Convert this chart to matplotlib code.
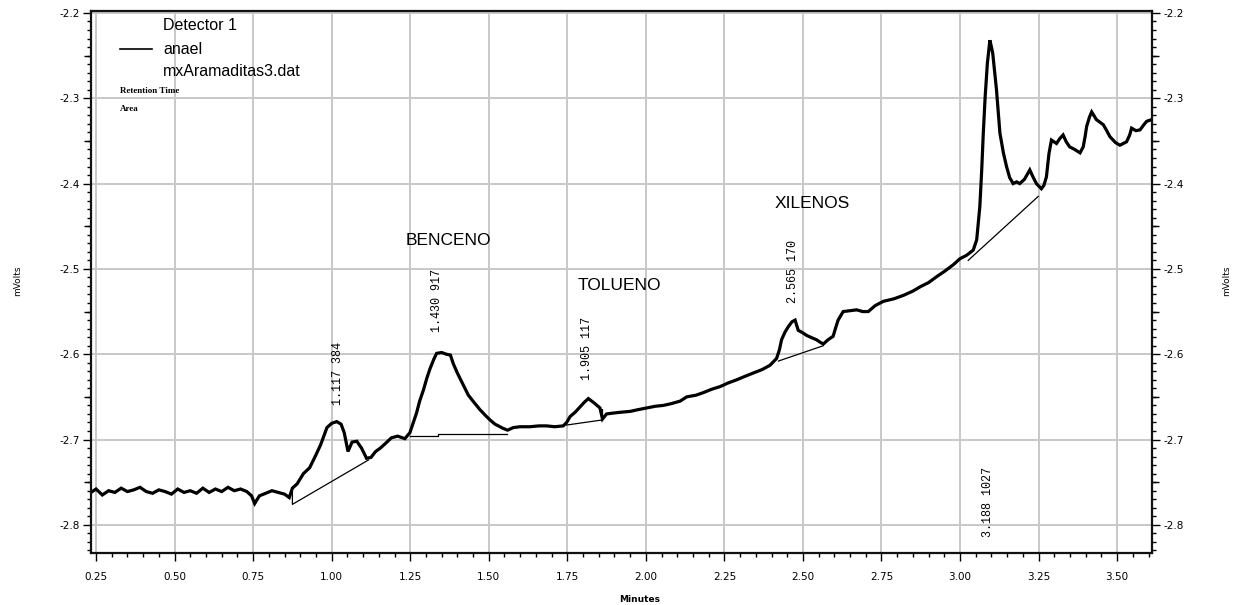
import matplotlib
matplotlib.use("Agg")
import matplotlib.pyplot as plt
from matplotlib.ticker import MultipleLocator, FixedLocator, FormatStrFormatter

# ---- detector trace (minutes, mV) ----
trace_min = [
    0.234, 0.25, 0.27, 0.29, 0.31, 0.33, 0.35, 0.37, 0.39, 0.41, 0.43, 0.45,
    0.47, 0.49, 0.51, 0.53, 0.55, 0.57, 0.59, 0.61, 0.63, 0.65, 0.67, 0.69,
    0.71, 0.73, 0.745, 0.755, 0.77, 0.79, 0.81, 0.83, 0.85, 0.865, 0.875,
    0.89, 0.91, 0.93, 0.95, 0.965, 0.985, 1.00, 1.016, 1.03, 1.04, 1.052,
    1.065, 1.08, 1.095, 1.111, 1.125, 1.14, 1.155, 1.17, 1.19, 1.21, 1.233,
    1.249, 1.26, 1.27, 1.28, 1.292, 1.303, 1.313, 1.325, 1.334, 1.35, 1.365,
    1.378, 1.387, 1.40, 1.408, 1.42, 1.435, 1.45, 1.472, 1.49, 1.504, 1.52,
    1.546, 1.56, 1.578, 1.60, 1.631, 1.66, 1.684, 1.71, 1.737, 1.748, 1.759,
    1.775, 1.79, 1.805, 1.817, 1.835, 1.854, 1.862, 1.875, 1.896, 1.92, 1.95,
    1.975, 2.003, 2.03, 2.056, 2.08, 2.109, 2.13, 2.16, 2.183, 2.21, 2.236,
    2.26, 2.289, 2.315, 2.342, 2.37, 2.395, 2.416, 2.425, 2.432, 2.443,
    2.453, 2.465, 2.475, 2.485, 2.50, 2.512, 2.53, 2.543, 2.555, 2.565,
    2.58, 2.596, 2.605, 2.612, 2.628, 2.65, 2.671, 2.69, 2.708, 2.73, 2.756,
    2.79, 2.82, 2.85, 2.873, 2.90, 2.926, 2.95, 2.979, 3.00, 3.021, 3.042,
    3.053, 3.063, 3.069, 3.074, 3.08, 3.087, 3.095, 3.10, 3.104, 3.116,
    3.127, 3.138, 3.148, 3.158, 3.169, 3.18, 3.19, 3.205, 3.222, 3.232,
    3.243, 3.259, 3.267, 3.275, 3.283, 3.291, 3.307, 3.318, 3.328, 3.338,
    3.349, 3.365, 3.382, 3.392, 3.398, 3.403, 3.412, 3.419, 3.434, 3.456,
    3.467, 3.477, 3.495, 3.509, 3.53, 3.54, 3.546, 3.56, 3.573, 3.585,
    3.594, 3.61,
]
trace_mv = [
    -2.762, -2.758, -2.765, -2.760, -2.762, -2.757, -2.761, -2.759, -2.756,
    -2.761, -2.763, -2.759, -2.761, -2.764, -2.758, -2.762, -2.760, -2.763,
    -2.757, -2.762, -2.758, -2.761, -2.756, -2.760, -2.758, -2.761, -2.766,
    -2.775, -2.766, -2.763, -2.760, -2.762, -2.764, -2.768, -2.757, -2.752,
    -2.740, -2.733, -2.718, -2.706, -2.686, -2.681, -2.679, -2.682, -2.692,
    -2.714, -2.703, -2.702, -2.710, -2.722, -2.721, -2.714, -2.710, -2.705,
    -2.698, -2.696, -2.699, -2.692, -2.680, -2.669, -2.655, -2.642, -2.628,
    -2.617, -2.606, -2.599, -2.598, -2.600, -2.601, -2.611, -2.622, -2.628,
    -2.637, -2.648, -2.655, -2.665, -2.672, -2.677, -2.682, -2.687, -2.689,
    -2.686, -2.685, -2.685, -2.684, -2.684, -2.685, -2.684, -2.680, -2.673,
    -2.668, -2.662, -2.656, -2.652, -2.657, -2.663, -2.676, -2.670, -2.669,
    -2.668, -2.667, -2.665, -2.663, -2.661, -2.660, -2.658, -2.655, -2.650,
    -2.648, -2.645, -2.641, -2.638, -2.634, -2.630, -2.626, -2.622, -2.618,
    -2.613, -2.605, -2.595, -2.583, -2.574, -2.568, -2.562, -2.560, -2.572,
    -2.575, -2.578, -2.581, -2.583, -2.586, -2.588, -2.583, -2.579, -2.568,
    -2.560, -2.550, -2.549, -2.548, -2.550, -2.550, -2.543, -2.538, -2.535,
    -2.531, -2.526, -2.521, -2.516, -2.509, -2.503, -2.495, -2.488, -2.484,
    -2.478, -2.466, -2.427, -2.384, -2.341, -2.298, -2.259, -2.232, -2.240,
    -2.247, -2.290, -2.341, -2.364, -2.380, -2.393, -2.400, -2.398, -2.400,
    -2.395, -2.384, -2.392, -2.400, -2.406, -2.402, -2.392, -2.365, -2.349,
    -2.353, -2.347, -2.343, -2.351, -2.357, -2.360, -2.364, -2.357, -2.345,
    -2.333, -2.322, -2.316, -2.325, -2.331, -2.338, -2.345, -2.352, -2.355,
    -2.351, -2.343, -2.335, -2.338, -2.337, -2.331, -2.327, -2.325,
]

# ---- integration baselines (one polyline per peak) ----
baseline_min = [
    [0.875, 0.875, 1.117],
    [1.249, 1.339, 1.339, 1.557],
    [1.748, 1.862, 1.862],
    [2.422, 2.565],
    [3.026, 3.249],
]
baseline_mv = [
    [-2.757, -2.776, -2.724],
    [-2.696, -2.696, -2.6935, -2.6935],
    [-2.683, -2.677, -2.665],
    [-2.608, -2.590],
    [-2.490, -2.415],
]

# ---- peak tables: retention time + area ----
peak_text = ["1.117 384", "1.430 917", "1.905 117", "2.565 170", "3.188 1027"]
peak_text_pos = [(1.020, -2.660), (1.334, -2.574), (1.812, -2.630),
                 (2.468, -2.540), (3.089, -2.814)]

compounds = ["BENCENO", "TOLUENO", "XILENOS"]
compound_pos = [(1.370, -2.467), (1.915, -2.520), (2.529, -2.423)]

x_ticks = [0.25, 0.50, 0.75, 1.00, 1.25, 1.50, 1.75, 2.00, 2.25, 2.50,
           2.75, 3.00, 3.25, 3.50]
y_ticks = [-2.8, -2.7, -2.6, -2.5, -2.4, -2.3, -2.2]

W, H = 1245, 605
fig = plt.figure(figsize=(W / 100, H / 100), dpi=100)
ax = fig.add_axes([91 / W, 1 - 553 / H, (1152 - 91) / W, (553 - 11) / H])

ax.set_xlim(0.234, 3.611)
ax.set_ylim(-2.833, -2.1977)

grid_col = "#c8c8c8"
ax.set_xticks(x_ticks)
ax.set_yticks(y_ticks)
ax.xaxis.set_major_formatter(FormatStrFormatter("%.2f"))
ax.yaxis.set_major_formatter(FormatStrFormatter("%.1f"))
ax.xaxis.set_minor_locator(MultipleLocator(0.05))
ax.yaxis.set_minor_locator(MultipleLocator(0.01))
ax.grid(True, which="major", color=grid_col, linewidth=1.4)
ax.set_axisbelow(True)

ax.tick_params(axis="both", which="major", direction="out", length=6,
               width=1, colors="black", labelsize=7.5, pad=2)
ax.tick_params(axis="both", which="minor", direction="out", length=3,
               width=1, colors="black")
ax.tick_params(axis="y", which="both", left=True, right=True,
               labelleft=True, labelright=True)
ax.tick_params(axis="x", which="major", pad=8)
for lab in ax.get_xticklabels() + ax.get_yticklabels():
    lab.set_fontfamily("DejaVu Sans")

for side in ("left", "right", "top", "bottom"):
    ax.spines[side].set_linewidth(1.6)
    ax.spines[side].set_color("#111111")

# mid-interval ticks at every 0.05 mV on both y axes
mid_y = [-2.75, -2.65, -2.55, -2.45, -2.35, -2.25]
for loc in ("left", "right"):
    sec = ax.secondary_yaxis(loc)
    sec.yaxis.set_major_locator(FixedLocator(mid_y))
    sec.tick_params(length=5, width=1, labelleft=False, labelright=False,
                    direction="out")
    sec.spines[loc].set_visible(False)

# trace and baselines
ax.plot(trace_min, trace_mv, color="black", linewidth=2.3,
        solid_joinstyle="miter")
for bx, by in zip(baseline_min, baseline_mv):
    ax.plot(bx, by, color="black", linewidth=0.9)

for txt, (px, py) in zip(peak_text, peak_text_pos):
    ax.text(px, py, txt, rotation=90, ha="center", va="bottom",
            family="Liberation Mono", fontsize=8.5, color="black")

for name, (px, py) in zip(compounds, compound_pos):
    ax.text(px, py, name, ha="center", va="center",
            family="Liberation Sans", fontsize=12.5, color="black")


def ftext(px, py, s, **kw):
    fig.text(px / W, 1 - py / H, s, **kw)


# legend block
ftext(163, 26, "Detector 1", family="Liberation Sans", fontsize=11.5,
      va="center")
fig.add_artist(plt.Line2D([120 / W, 152 / W], [1 - 49 / H, 1 - 49 / H],
                          color="black", linewidth=1.2))
ftext(163, 49, "anael", family="Liberation Sans", fontsize=11.5, va="center")
ftext(163, 72, "mxAramaditas3.dat", family="Liberation Sans", fontsize=11.5,
      va="center")
ftext(120, 91, "Retention Time", family="Liberation Serif", fontsize=6.5,
      weight="bold", va="center")
ftext(120, 109, "Area", family="Liberation Serif", fontsize=6.5,
      weight="bold", va="center")

# axis titles
ftext(640, 599, "Minutes", family="DejaVu Sans", fontsize=6.5,
      weight="bold", ha="center", va="center")
ftext(18, 281, "mVolts", family="DejaVu Sans", fontsize=6.5, rotation=90,
      ha="center", va="center")
ftext(1227, 281, "mVolts", family="DejaVu Sans", fontsize=6.5, rotation=90,
      ha="center", va="center")

fig.savefig("out.png", dpi=100, facecolor="white")
